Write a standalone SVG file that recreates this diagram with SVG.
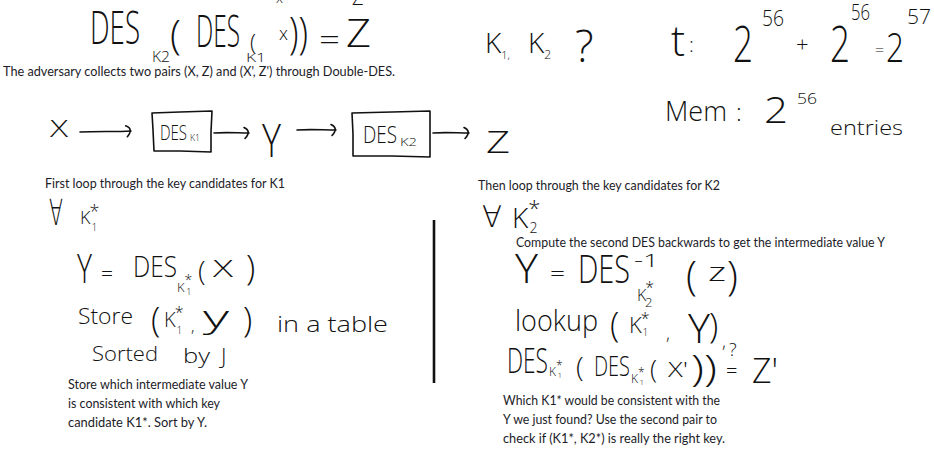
<svg xmlns="http://www.w3.org/2000/svg" width="934" height="464" viewBox="0 0 934 464">
<defs>
<style>
.h{font-family:"Open Sans","DejaVu Sans",sans-serif;font-weight:300;fill:#111;}
.t{font-family:Lato,"Open Sans",sans-serif;font-size:13px;fill:#1c1c28;}
.ln{fill:none;stroke:#111;stroke-width:1.6;stroke-linecap:round;stroke-linejoin:round;}
</style>
<marker id="hook" markerWidth="12" markerHeight="14" refX="8" refY="7" orient="auto" markerUnits="userSpaceOnUse">
<path d="M3,1.5 Q11,5 4,12.5" fill="none" stroke="#111" stroke-width="1.6" stroke-linecap="round"/>
</marker>
</defs>
<rect width="934" height="464" fill="#fff"/>

<g id="top-formula">
<text class="h" x="276" y="3" font-size="14">x</text>
<text class="h" x="352" y="5" font-size="20">Z</text>
<text class="h" x="90" y="44" font-size="46" textLength="50" lengthAdjust="spacingAndGlyphs">DES</text>
<text class="h" x="152" y="62" font-size="14" textLength="18" lengthAdjust="spacingAndGlyphs">K2</text>
<text class="h" x="170" y="49" font-size="40">(</text>
<text class="h" x="196" y="47" font-size="44" textLength="44" lengthAdjust="spacingAndGlyphs">DES</text>
<text class="h" x="246" y="62" font-size="13" textLength="20" lengthAdjust="spacingAndGlyphs">K1</text>
<text class="h" x="250" y="50" font-size="22">(</text>
<text class="h" x="279" y="40" font-size="18">x</text>
<text class="h" x="289" y="49" font-size="44" textLength="19" lengthAdjust="spacingAndGlyphs">))</text>
<text class="h" x="319" y="50" font-size="32" textLength="21" lengthAdjust="spacingAndGlyphs">=</text>
<text class="h" x="346" y="47" font-size="38" textLength="25" lengthAdjust="spacingAndGlyphs">Z</text>
<text class="t" x="3" y="76" textLength="392" lengthAdjust="spacingAndGlyphs">The adversary collects two pairs (X, Z) and (X', Z') through Double-DES.</text>
</g>

<g id="keys-question">
<text class="h" x="485" y="53" font-size="28">K<tspan font-size="11" dy="6">1,</tspan></text>
<text class="h" x="528" y="53" font-size="28">K<tspan font-size="12" dy="6">2</tspan></text>
<text class="h" x="575" y="62" font-size="44">?</text>
</g>

<g id="time">
<text class="h" x="671" y="56" font-size="42">t</text>
<text class="h" x="689" y="52" font-size="20">:</text>
<text class="h" x="733" y="62" font-size="50" textLength="20" lengthAdjust="spacingAndGlyphs">2</text>
<text class="h" x="762" y="26" font-size="22" textLength="22" lengthAdjust="spacingAndGlyphs">56</text>
<text class="h" x="796" y="52" font-size="22">+</text>
<text class="h" x="830" y="62" font-size="50" textLength="20" lengthAdjust="spacingAndGlyphs">2</text>
<text class="h" x="851" y="20" font-size="22" textLength="19" lengthAdjust="spacingAndGlyphs">56</text>
<text class="h" x="875" y="56" font-size="16">=</text>
<text class="h" x="886" y="62" font-size="40" textLength="18" lengthAdjust="spacingAndGlyphs">2</text>
<text class="h" x="907" y="24" font-size="20" textLength="24" lengthAdjust="spacingAndGlyphs">57</text>
</g>

<g id="memory">
<text class="h" x="665" y="121" font-size="28" textLength="62" lengthAdjust="spacingAndGlyphs">Mem</text>
<text class="h" x="736" y="121" font-size="24">:</text>
<text class="h" x="764" y="123" font-size="36" textLength="24" lengthAdjust="spacingAndGlyphs">2</text>
<text class="h" x="797" y="104" font-size="14" textLength="20" lengthAdjust="spacingAndGlyphs">56</text>
<text class="h" x="830" y="135" font-size="20" textLength="73" lengthAdjust="spacingAndGlyphs">entries</text>
</g>

<g id="node-x"><text class="h" x="50" y="137" font-size="24" textLength="18" lengthAdjust="spacingAndGlyphs">X</text></g>
<g id="node-des-k1">
<path class="ln" d="M152,113 L180,112 L212,111 L211,132 L211,152 L180,151 L154,151 L153,130 Z"/>
<text class="h" x="160" y="140" font-size="20" textLength="27" lengthAdjust="spacingAndGlyphs">DES</text>
<text class="h" x="190" y="141" font-size="9" textLength="10" lengthAdjust="spacingAndGlyphs">K1</text>
</g>
<g id="node-y"><text class="h" x="262" y="157" font-size="46" textLength="19" lengthAdjust="spacingAndGlyphs">Y</text></g>
<g id="node-des-k2">
<path class="ln" d="M352,113 L392,112 L430,111 L430,135 L430,157 L392,156 L353,156 L353,134 Z"/>
<text class="h" x="363" y="143" font-size="24" textLength="34" lengthAdjust="spacingAndGlyphs">DES</text>
<text class="h" x="400" y="146" font-size="10" textLength="17" lengthAdjust="spacingAndGlyphs">K2</text>
</g>
<g id="node-z"><text class="h" x="486" y="153" font-size="32" textLength="24" lengthAdjust="spacingAndGlyphs">Z</text></g>

<g id="connectors">
<path class="ln" d="M80,132 C98,131 115,132 131,131" marker-end="url(#hook)"/>
<path class="ln" d="M214,133 C226,132 238,133 249,133" marker-end="url(#hook)"/>
<path class="ln" d="M297,130 C310,129 323,130 336,130" marker-end="url(#hook)"/>
<path class="ln" d="M433,133 C445,132 457,133 469,133" marker-end="url(#hook)"/>
</g>

<g id="left-column">
<text class="t" x="45" y="188" textLength="240" lengthAdjust="spacingAndGlyphs">First loop through the key candidates for K1</text>
<text class="h" x="49" y="225" font-size="36" textLength="14" lengthAdjust="spacingAndGlyphs">∀</text>
<text class="h" x="80" y="224" font-size="18">K<tspan dx="-1" dy="-6">*</tspan><tspan font-size="10" dx="-8" dy="13">1</tspan></text>

<text class="h" x="77" y="283" font-size="40" textLength="15" lengthAdjust="spacingAndGlyphs">Y</text>
<text class="h" x="101" y="281" font-size="22" textLength="12" lengthAdjust="spacingAndGlyphs">=</text>
<text class="h" x="133" y="277" font-size="30" textLength="44" lengthAdjust="spacingAndGlyphs">DES</text>
<text class="h" x="177" y="292" font-size="13">K<tspan font-size="14" dy="-7">*</tspan><tspan font-size="9" dx="-6" dy="10">1</tspan></text>
<text class="h" x="198" y="281" font-size="28">(</text>
<text class="h" x="213" y="277" font-size="24" textLength="20" lengthAdjust="spacingAndGlyphs">X</text>
<text class="h" x="246" y="280" font-size="34">)</text>

<text class="h" x="78" y="324" font-size="22" textLength="55" lengthAdjust="spacingAndGlyphs">Store</text>
<text class="h" x="151" y="332" font-size="34">(</text>
<text class="h" x="164" y="327" font-size="20">K<tspan font-size="16" dx="-1" dy="-9">*</tspan><tspan font-size="10" dx="-7" dy="16">1</tspan></text>
<text class="h" x="191" y="332" font-size="16">,</text>
<text class="h" x="203" y="328" font-size="32" textLength="26" lengthAdjust="spacingAndGlyphs">y</text>
<text class="h" x="243" y="332" font-size="34">)</text>
<text class="h" x="277" y="332" font-size="22" textLength="111" lengthAdjust="spacingAndGlyphs">in a table</text>

<text class="h" x="92" y="361" font-size="20" textLength="66" lengthAdjust="spacingAndGlyphs">Sorted</text>
<text class="h" x="183" y="363" font-size="20" textLength="27" lengthAdjust="spacingAndGlyphs">by</text>
<text class="h" x="221" y="364" font-size="22">J</text>

<text class="t" x="68" y="389" textLength="180" lengthAdjust="spacingAndGlyphs">Store which intermediate value Y</text>
<text class="t" x="68" y="408" textLength="152" lengthAdjust="spacingAndGlyphs">is consistent with which key</text>
<text class="t" x="68" y="427" textLength="139" lengthAdjust="spacingAndGlyphs">candidate K1*. Sort by Y.</text>
</g>

<g id="divider">
<line x1="434" y1="220" x2="434" y2="383" stroke="#111" stroke-width="2.6"/>
</g>

<g id="right-column">
<text class="t" x="478" y="190" textLength="242" lengthAdjust="spacingAndGlyphs">Then loop through the key candidates for K2</text>
<text class="h" x="482" y="227" font-size="30" textLength="20" lengthAdjust="spacingAndGlyphs">∀</text>
<text class="h" x="512" y="228" font-size="28">K<tspan font-size="22" dx="0" dy="-12">*</tspan><tspan font-size="14" dx="-11" dy="17">2</tspan></text>
<text class="t" x="516" y="247" textLength="369" lengthAdjust="spacingAndGlyphs">Compute the second DES backwards to get the intermediate value Y</text>

<text class="h" x="515" y="283" font-size="40" textLength="23" lengthAdjust="spacingAndGlyphs">Y</text>
<text class="h" x="550" y="281" font-size="22" textLength="15" lengthAdjust="spacingAndGlyphs">=</text>
<text class="h" x="578" y="283" font-size="38" textLength="52" lengthAdjust="spacingAndGlyphs">DES</text>
<text class="h" x="634" y="267" font-size="18" textLength="25" lengthAdjust="spacingAndGlyphs">-1</text>
<text class="h" x="637" y="301" font-size="16">K<tspan dx="-1" dy="-8">*</tspan><tspan font-size="13" dx="-9" dy="14">2</tspan></text>
<text class="h" x="686" y="290" font-size="40">(</text>
<text class="h" x="708" y="281" font-size="26" textLength="18" lengthAdjust="spacingAndGlyphs">z</text>
<text class="h" x="727" y="290" font-size="40">)</text>

<text class="h" x="515" y="331" font-size="30" textLength="83" lengthAdjust="spacingAndGlyphs">lookup</text>
<text class="h" x="610" y="337" font-size="34">(</text>
<text class="h" x="629" y="333" font-size="22">K<tspan font-size="16" dx="-1" dy="-9">*</tspan><tspan font-size="10" dx="-7" dy="12">1</tspan></text>
<text class="h" x="666" y="340" font-size="18">,</text>
<text class="h" x="688" y="343" font-size="40" textLength="22" lengthAdjust="spacingAndGlyphs">Y</text>
<text class="h" x="709" y="338" font-size="34">)</text>
<text class="h" x="722" y="348" font-size="18">,</text>

<text class="h" x="507" y="373" font-size="34" textLength="41" lengthAdjust="spacingAndGlyphs">DES</text>
<text class="h" x="549" y="376" font-size="12">K<tspan dy="-6">*</tspan><tspan font-size="8" dx="-5" dy="8">1</tspan></text>
<text class="h" x="576" y="377" font-size="28">(</text>
<text class="h" x="594" y="376" font-size="28" textLength="36" lengthAdjust="spacingAndGlyphs">DES</text>
<text class="h" x="631" y="383" font-size="12">K<tspan dy="-6">*</tspan><tspan font-size="8" dx="-5" dy="8">1</tspan></text>
<text class="h" x="650" y="378" font-size="26">(</text>
<text class="h" x="668" y="377" font-size="20" textLength="20" lengthAdjust="spacingAndGlyphs">X'</text>
<text class="h" x="691" y="381" font-size="36" textLength="26" lengthAdjust="spacingAndGlyphs">))</text>
<text class="h" x="729" y="356" font-size="18">?</text>
<text class="h" x="726" y="378" font-size="20">=</text>
<text class="h" x="752" y="383" font-size="34" textLength="26" lengthAdjust="spacingAndGlyphs">Z'</text>

<text class="t" x="503" y="405" textLength="217" lengthAdjust="spacingAndGlyphs">Which K1* would be consistent with the</text>
<text class="t" x="503" y="424" textLength="214" lengthAdjust="spacingAndGlyphs">Y we just found? Use the second pair to</text>
<text class="t" x="503" y="443" textLength="222" lengthAdjust="spacingAndGlyphs">check if (K1*, K2*) is really the right key.</text>
</g>
</svg>
